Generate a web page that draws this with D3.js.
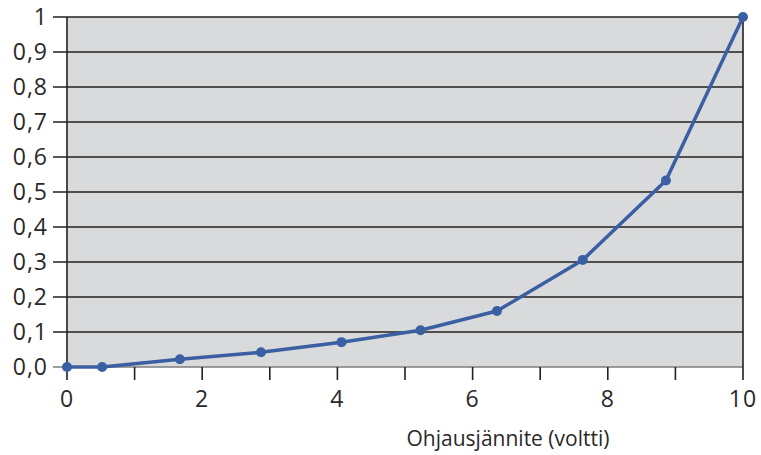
<!DOCTYPE html>
<html>
<head>
<meta charset="utf-8">
<script src="https://cdn.jsdelivr.net/npm/d3@7"></script>
<style>
  body { margin: 0; background: #fff; }
  text { font-family: "Open Sans", "Noto Sans", sans-serif; fill: #2b2829; }
</style>
</head>
<body>
<script>
'use strict';

// values
const voltage = [0, 0.52, 1.67, 2.87, 4.06, 5.23, 6.36, 7.63, 8.86, 10];
const output = [0, 0, 0.022, 0.042, 0.071, 0.105, 0.16, 0.306, 0.533, 1];
const yTicks = [0, 0.1, 0.2, 0.3, 0.4, 0.5, 0.6, 0.7, 0.8, 0.9, 1];
const xTicks = [0, 1, 2, 3, 4, 5, 6, 7, 8, 9, 10];
const xLabels = [0, 2, 4, 6, 8, 10];
const xTitle = "Ohjausjännite (voltti)";

const W = 761, H = 455;
const plotL = 67, plotR = 743, plotT = 17, plotB = 367;

const svg = d3.select('body').append('svg')
  .attr('width', W)
  .attr('height', H);

const x = d3.scaleLinear().domain([0, 10]).range([plotL, plotR]);
const y = d3.scaleLinear().domain([0, 1]).range([plotB, plotT]);

// plot background
svg.append('rect')
  .attr('x', plotL).attr('y', plotT)
  .attr('width', plotR - plotL).attr('height', plotB - plotT)
  .attr('fill', '#d9dadc');

// horizontal gridlines with ticks sticking out to the left
svg.append('g')
  .selectAll('line')
  .data(yTicks)
  .enter().append('line')
    .attr('x1', plotL - 14)
    .attr('x2', plotR)
    .attr('y1', d => y(d))
    .attr('y2', d => y(d))
    .attr('stroke', d => d === 0 ? '#7d7d7d' : '#231f20')
    .attr('stroke-width', 1.6);

// y labels
svg.append('g')
  .selectAll('text')
  .data(yTicks)
  .enter().append('text')
    .attr('x', plotL - 19)
    .attr('y', d => y(d))
    .attr('dy', '0.36em')
    .attr('text-anchor', 'end')
    .style('font-size', '23px')
    .style('letter-spacing', '1px')
    .text(d => d === 1 ? '1' : d3.format('.1f')(d).replace('.', ','));

// x ticks
svg.append('g')
  .selectAll('line')
  .data(xTicks)
  .enter().append('line')
    .attr('x1', d => x(d))
    .attr('x2', d => x(d))
    .attr('y1', d => (d === 0 || d === 10) ? plotT : plotB)
    .attr('y2', plotB + 13)
    .attr('stroke', '#231f20')
    .attr('stroke-width', 1.6);

// x labels
svg.append('g')
  .selectAll('text')
  .data(xLabels)
  .enter().append('text')
    .attr('x', d => x(d))
    .attr('y', 407)
    .attr('text-anchor', 'middle')
    .style('font-size', '23px')
    .style('letter-spacing', '1px')
    .text(d => d);

// axis title
svg.append('text')
  .attr('x', 508)
  .attr('y', 446)
  .attr('text-anchor', 'middle')
  .style('font-size', '21px')
  .text(xTitle);

// series
const pts = voltage.map((v, i) => [v, output[i]]);

const line = d3.line()
  .x(d => x(d[0]))
  .y(d => y(d[1]));

svg.append('path')
  .datum(pts)
  .attr('d', line)
  .attr('fill', 'none')
  .attr('stroke', '#3a5fa2')
  .attr('stroke-width', 3.5)
  .attr('stroke-linejoin', 'round');

svg.append('g')
  .selectAll('circle')
  .data(pts)
  .enter().append('circle')
    .attr('cx', d => x(d[0]))
    .attr('cy', d => y(d[1]))
    .attr('r', 5)
    .attr('fill', '#3a5fa2');
</script>
</body>
</html>
